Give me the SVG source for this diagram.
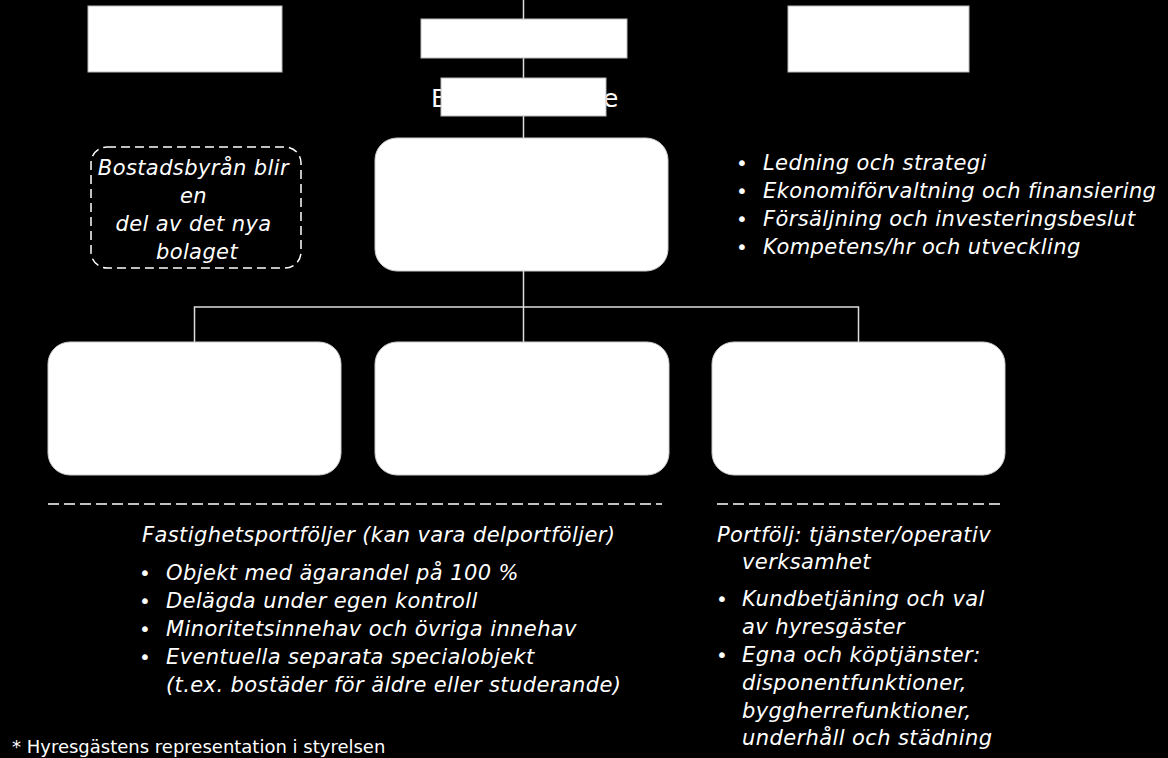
<svg xmlns="http://www.w3.org/2000/svg" width="1168" height="758" viewBox="0 0 1168 758">
<style>
.bg{fill:#000}
.box{fill:#fff;stroke:#bbb;stroke-width:1}
.rbox{fill:#fff;stroke:#ccc;stroke-width:1}
.conn{stroke:#ddd;stroke-width:1.5;fill:none}
.dash{stroke:#fff;stroke-width:1.5;fill:none;stroke-dasharray:11 5}
.t{font-family:"DejaVu Sans","Verdana",sans-serif;fill:#fff}
.i{font-style:italic;font-size:21px;letter-spacing:0.4px}
</style>
<rect class="bg" x="0" y="0" width="1168" height="758"/>
<g id="connectors">
<line class="conn" x1="523.5" y1="0" x2="523.5" y2="138"/>
<line class="conn" x1="523.5" y1="271" x2="523.5" y2="342"/>
<polyline class="conn" points="194.5,342 194.5,307 858.5,307 858.5,342"/>
</g>
<g id="label-b">
<text class="t" x="431" y="107" font-size="25">B</text>
<text class="t" x="603" y="107" font-size="25">e</text>
</g>
<g id="top-left"><rect class="box" x="88" y="6" width="194" height="66"/></g>
<g id="top-right"><rect class="box" x="788" y="6" width="181" height="66"/></g>
<g id="top-center"><rect class="box" x="421" y="19" width="206" height="39"/></g>
<g id="sub-center"><rect class="box" x="441" y="78" width="165" height="38"/></g>
<g id="main"><rect class="rbox" x="375" y="138" width="293" height="133" rx="22" ry="22"/></g>
<g id="child-left"><rect class="rbox" x="48" y="342" width="293" height="133" rx="22" ry="22"/></g>
<g id="child-mid"><rect class="rbox" x="375" y="342" width="294" height="133" rx="22" ry="22"/></g>
<g id="child-right"><rect class="rbox" x="712" y="342" width="293" height="133" rx="22" ry="22"/></g>
<g id="note">
<rect x="91" y="147" width="210" height="121" rx="16" ry="16" fill="none" stroke="#fff" stroke-width="1.5" stroke-dasharray="9 5"/>
<text class="t i" text-anchor="middle">
<tspan x="197" y="175">Bostadsbyrån blir</tspan>
<tspan x="197" y="203">en</tspan>
<tspan x="197" y="231">del av det nya</tspan>
<tspan x="197" y="259">bolaget</tspan>
</text>
</g>
<g id="functions">
<g class="t" font-size="20">
<text x="736" y="170">•</text>
<text x="736" y="198">•</text>
<text x="736" y="226">•</text>
<text x="736" y="254">•</text>
</g>
<text class="t i">
<tspan x="763" y="170">Ledning och strategi</tspan>
<tspan x="763" y="198">Ekonomiförvaltning och finansiering</tspan>
<tspan x="763" y="226">Försäljning och investeringsbeslut</tspan>
<tspan x="763" y="254">Kompetens/hr och utveckling</tspan>
</text>
</g>
<g id="portfolios">
<line class="dash" x1="48" y1="504" x2="662" y2="504"/>
<text class="t i" x="142" y="542">Fastighetsportföljer (kan vara delportföljer)</text>
<g class="t" font-size="20">
<text x="139" y="580">•</text>
<text x="139" y="608">•</text>
<text x="139" y="636">•</text>
<text x="139" y="664">•</text>
</g>
<text class="t i">
<tspan x="166" y="580">Objekt med ägarandel på 100 %</tspan>
<tspan x="166" y="608">Delägda under egen kontroll</tspan>
<tspan x="166" y="636">Minoritetsinnehav och övriga innehav</tspan>
<tspan x="166" y="664">Eventuella separata specialobjekt</tspan>
<tspan x="166" y="692">(t.ex. bostäder för äldre eller studerande)</tspan>
</text>
</g>
<g id="services">
<line class="dash" x1="717" y1="504" x2="1005" y2="504"/>
<text class="t i">
<tspan x="717" y="542">Portfölj: tjänster/operativ</tspan>
<tspan x="742" y="569">verksamhet</tspan>
</text>
<g class="t" font-size="20">
<text x="716" y="606">•</text>
<text x="716" y="662">•</text>
</g>
<text class="t i">
<tspan x="742" y="606">Kundbetjäning och val</tspan>
<tspan x="742" y="634">av hyresgäster</tspan>
<tspan x="742" y="662">Egna och köptjänster:</tspan>
<tspan x="742" y="690">disponentfunktioner,</tspan>
<tspan x="742" y="718">byggherrefunktioner,</tspan>
<tspan x="742" y="745">underhåll och städning</tspan>
</text>
</g>
<g id="footnote">
<text class="t" x="12" y="753" font-size="18">* Hyresgästens representation i styrelsen</text>
</g>
</svg>
